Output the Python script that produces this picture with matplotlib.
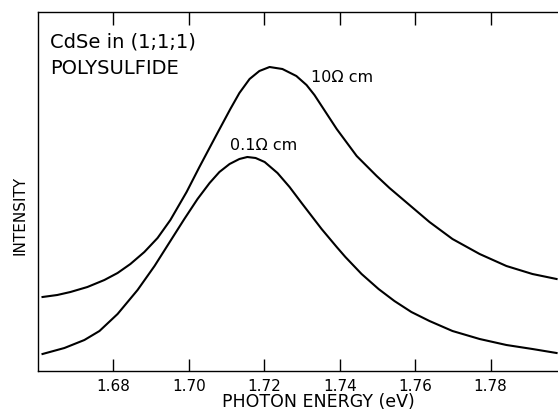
import matplotlib
matplotlib.use("Agg")
import matplotlib.pyplot as plt

# ---- data ----
energy_10 = [1.6612, 1.6651, 1.6686, 1.6731, 1.6776, 1.6811, 1.6845, 1.6882, 1.6917, 1.6951,
             1.6994, 1.7028, 1.7073, 1.7110, 1.7134, 1.7161, 1.7187, 1.7214, 1.7248, 1.7285,
             1.7312, 1.7333, 1.7392, 1.7445, 1.7498, 1.7532, 1.7585, 1.7638, 1.7699, 1.7771,
             1.7842, 1.7911, 1.7975]
intensity_10 = [74, 76, 79, 84, 91, 98, 107, 119, 133, 151,
                179, 204, 236, 262, 278, 292, 300, 304, 302, 295,
                286, 276, 242, 215, 195, 183, 166, 149, 132, 117,
                105, 97, 92]

energy_01 = [1.6612, 1.6670, 1.6723, 1.6763, 1.6811, 1.6864, 1.6909, 1.6951, 1.6988, 1.7023,
             1.7055, 1.7081, 1.7108, 1.7134, 1.7155, 1.7177, 1.7201, 1.7235, 1.7267, 1.7299,
             1.7352, 1.7392, 1.7415, 1.7458, 1.7503, 1.7545, 1.7590, 1.7638, 1.7699, 1.7771,
             1.7842, 1.7911, 1.7975]
intensity_01 = [17, 23, 31, 40, 57, 81, 105, 130, 152, 172,
                188, 199, 207, 212, 214, 213, 209, 198, 184, 168,
                142, 124, 114, 97, 82, 70, 59, 50, 40, 32,
                26, 22, 18]

xticks = [1.68, 1.70, 1.72, 1.74, 1.76, 1.78]
xtick_labels = ["1.68", "1.70", "1.72", "1.74", "1.76", "1.78"]
label_10 = "10\u03a9 cm"
label_01 = "0.1\u03a9 cm"
title_lines = ["CdSe in (1;1;1)", "POLYSULFIDE"]
xlabel = "PHOTON ENERGY (eV)"
ylabel = "INTENSITY"

plt.rcParams['font.family'] = ['DejaVu Sans']

W, H = 558, 417
fig = plt.figure(figsize=(W / 100, H / 100), dpi=100)
ax = fig.add_axes([38 / W, (H - 371) / H, (566 - 38) / W, (371 - 12) / H])

ax.plot(energy_10, intensity_10, color='black', lw=1.5, solid_joinstyle='round')
ax.plot(energy_01, intensity_01, color='black', lw=1.5, solid_joinstyle='round')

ax.set_xlim(1.66, 1.80)
ax.set_ylim(0, 359)
ax.set_xticks(xticks)
ax.set_xticklabels(xtick_labels, fontsize=11)
ax.set_yticks([])
ax.tick_params(axis='x', direction='in', length=9, width=1.0, top=True, bottom=True,
               labeltop=False, pad=6)
for s in ['left', 'top', 'bottom']:
    ax.spines[s].set_linewidth(1.0)
ax.spines['right'].set_visible(False)

ax.text(1.6633, 359 - 30, title_lines[0], fontsize=14, va='center', ha='left')
ax.text(1.6633, 359 - 57, title_lines[1], fontsize=14, va='center', ha='left')
ax.text(1.7324, 371 - 78, label_10, fontsize=11.5, va='center', ha='left')
ax.text(1.7108, 371 - 146, label_01, fontsize=11.5, va='center', ha='left')

fig.text(318 / W, 1 - 402 / H, xlabel, fontsize=12.5, ha='center', va='center')
fig.text(20 / W, 1 - 215 / H, ylabel, fontsize=11, ha='center', va='center', rotation=90)

fig.savefig("out.png", dpi=100, facecolor='white')
